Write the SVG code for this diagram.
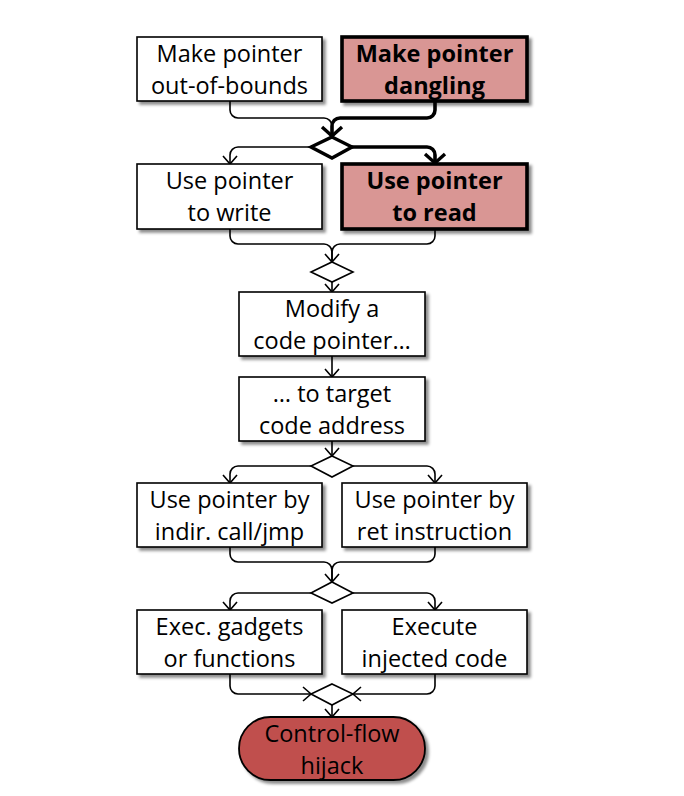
<svg xmlns="http://www.w3.org/2000/svg" width="684" height="796" viewBox="0 0 684 796">
<style>
.box{fill:#ffffff;stroke:#000;stroke-width:1.6;filter:url(#sh)}
.hot{fill:#d99694;stroke:#000;stroke-width:3.6;filter:url(#sh)}
.term{fill:#c0504d;stroke:#000;stroke-width:1.8;filter:url(#sh)}
.dia{fill:#fff;stroke:#000;stroke-width:1.6}
.diaT{fill:#fff;stroke:#000;stroke-width:3.4}
.t{font-family:"Open Sans","Liberation Sans",sans-serif;font-size:23.5px;fill:#000;text-anchor:middle}
.b{font-weight:700}
.ln{fill:none;stroke:#000;stroke-width:1.6}
.lnT{fill:none;stroke:#000;stroke-width:3.6}
</style>
<defs>
<filter id="sh" x="-10%" y="-10%" width="130%" height="140%">
<feDropShadow dx="3" dy="3" stdDeviation="1.6" flood-color="#000" flood-opacity="0.45"/>
</filter>
<marker id="a" viewBox="0 0 18 18" refX="16" refY="9" markerWidth="18" markerHeight="18" markerUnits="userSpaceOnUse" orient="auto">
<path d="M8,2 L16,9 L8,16" fill="none" stroke="#000" stroke-width="1.6"/>
</marker>
<marker id="aT" viewBox="0 0 24 24" refX="21" refY="12" markerWidth="24" markerHeight="24" markerUnits="userSpaceOnUse" orient="auto">
<path d="M11,2 L20,12 L11,22" fill="none" stroke="#000" stroke-width="3.4"/>
</marker>
</defs>
<rect width="684" height="796" fill="#fff"/>

<g id="connectors">
<path class="ln" d="M230,101 V110 A8,8 0 0 0 238,118 H324 A8,8 0 0 1 332,126 V137" marker-end="url(#a)"/>
<path class="lnT" d="M435,101 V110 A8,8 0 0 1 427,118 H340 A8,8 0 0 0 332,126 V137" marker-end="url(#aT)"/>
<path class="ln" d="M311,147 H238 A8,8 0 0 0 230,155 V164" marker-end="url(#a)"/>
<path class="lnT" d="M352,147 H427 A8,8 0 0 1 435,155 V164" marker-end="url(#aT)"/>
<path class="ln" d="M230,229 V236 A8,8 0 0 0 238,244 H324 A8,8 0 0 1 332,252 V262" marker-end="url(#a)"/>
<path class="ln" d="M435,229 V236 A8,8 0 0 1 427,244 H340 A8,8 0 0 0 332,252 V262"/>
<path class="ln" d="M332,282 V292" marker-end="url(#a)"/>
<path class="ln" d="M332,356 V377" marker-end="url(#a)"/>
<path class="ln" d="M332,441 V456" marker-end="url(#a)"/>
<path class="ln" d="M311,466 H238 A8,8 0 0 0 230,474 V483" marker-end="url(#a)"/>
<path class="ln" d="M353,466 H427 A8,8 0 0 1 435,474 V483" marker-end="url(#a)"/>
<path class="ln" d="M230,547 V554 A8,8 0 0 0 238,562 H324 A8,8 0 0 1 332,570 V582" marker-end="url(#a)"/>
<path class="ln" d="M435,547 V554 A8,8 0 0 1 427,562 H340 A8,8 0 0 0 332,570 V582"/>
<path class="ln" d="M311,593 H238 A8,8 0 0 0 230,601 V610" marker-end="url(#a)"/>
<path class="ln" d="M353,593 H427 A8,8 0 0 1 435,601 V610" marker-end="url(#a)"/>
<path class="ln" d="M230,674 V686 A8,8 0 0 0 238,694 H311" marker-end="url(#a)"/>
<path class="ln" d="M435,674 V686 A8,8 0 0 1 427,694 H353" marker-end="url(#a)"/>
<path class="ln" d="M332,705 V717" marker-end="url(#a)"/>
</g>

<g id="decisions">
<polygon id="d1" class="diaT" points="332,137 352,147 332,158 311,147"/>
<polygon id="d2" class="dia" points="332,262 353,272 332,282 311,272"/>
<polygon id="d3" class="dia" points="332,456 353,466 332,477 311,466"/>
<polygon id="d4" class="dia" points="332,582 353,593 332,603 311,593"/>
<polygon id="d5" class="dia" points="332,684 353,694 332,705 311,694"/>
</g>

<g id="n1"><rect class="box" x="137" y="37" width="185" height="64"/>
<text class="t" x="229.5" y="62">Make pointer</text><text class="t" x="229.5" y="93.5">out-of-bounds</text></g>
<g id="n2"><rect class="hot" x="342" y="37" width="185" height="64"/>
<text class="t b" x="434.5" y="62">Make pointer</text><text class="t b" x="434.5" y="93.5">dangling</text></g>
<g id="n3"><rect class="box" x="137" y="164" width="185" height="65"/>
<text class="t" x="229.5" y="189">Use pointer</text><text class="t" x="229.5" y="220.5">to write</text></g>
<g id="n4"><rect class="hot" x="342" y="164" width="185" height="65"/>
<text class="t b" x="434.5" y="189">Use pointer</text><text class="t b" x="434.5" y="220.5">to read</text></g>
<g id="n5"><rect class="box" x="239" y="292" width="186" height="64"/>
<text class="t" x="332" y="317">Modify a</text><text class="t" x="332" y="348.5">code pointer…</text></g>
<g id="n6"><rect class="box" x="239" y="377" width="186" height="64"/>
<text class="t" x="332" y="402">… to target</text><text class="t" x="332" y="433.5">code address</text></g>
<g id="n7"><rect class="box" x="137" y="483" width="185" height="64"/>
<text class="t" x="229.5" y="508">Use pointer by</text><text class="t" x="229.5" y="539.5">indir. call/jmp</text></g>
<g id="n8"><rect class="box" x="342" y="483" width="185" height="64"/>
<text class="t" x="434.5" y="508">Use pointer by</text><text class="t" x="434.5" y="539.5">ret instruction</text></g>
<g id="n9"><rect class="box" x="137" y="610" width="185" height="64"/>
<text class="t" x="229.5" y="635">Exec. gadgets</text><text class="t" x="229.5" y="666.5">or functions</text></g>
<g id="n10"><rect class="box" x="342" y="610" width="185" height="64"/>
<text class="t" x="434.5" y="635">Execute</text><text class="t" x="434.5" y="666.5">injected code</text></g>
<g id="n11"><rect class="term" x="239" y="717" width="186" height="63" rx="31.5" ry="31.5"/>
<text class="t" x="332" y="742">Control-flow</text><text class="t" x="332" y="773.5">hijack</text></g>
</svg>
